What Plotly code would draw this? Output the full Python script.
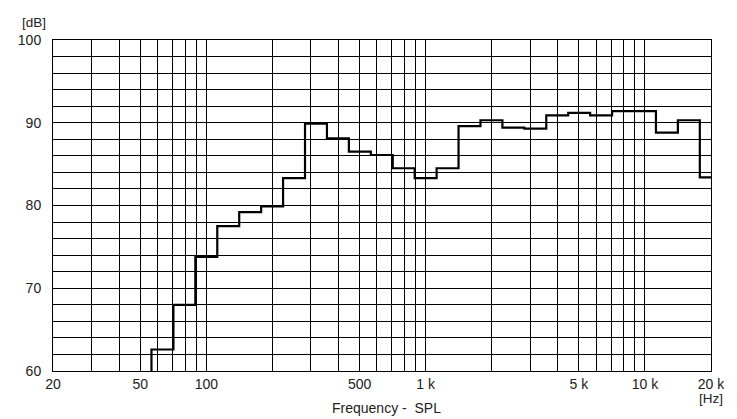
import numpy as np
import plotly.graph_objects as go

# 1/3-octave band index n (center = 1000*10^(n/10)), nominal centers and SPL levels [dB]
band_index = list(range(-13, 14))
band_centers = [50, 63, 80, 100, 125, 160, 200, 250, 315, 400, 500, 630, 800, 1000,
                1250, 1600, 2000, 2500, 3150, 4000, 5000, 6300, 8000, 10000, 12500, 16000, 20000]
spl_db = [55.0, 62.6, 68.0, 73.8, 77.5, 79.2, 79.9, 83.3, 89.9, 88.1, 86.5, 86.1, 84.5, 83.3,
          84.5, 89.6, 90.3, 89.4, 89.3, 90.9, 91.2, 90.9, 91.4, 91.4, 88.8, 90.3, 83.4]

x_grid = [20, 30, 40, 50, 60, 70, 80, 90, 100, 200, 300, 400, 500, 600, 700, 800, 900,
          1000, 2000, 3000, 4000, 5000, 6000, 7000, 8000, 9000, 10000, 20000]
x_labels = {20: "20", 50: "50", 100: "100", 500: "500", 1000: "1 k", 5000: "5 k",
            10000: "10 k", 20000: "20 k"}
y_grid = list(range(60, 101, 2))
y_labels = {60: "60", 70: "70", 80: "80", 90: "90", 100: "100"}

# step outline: lower band edges plus final upper edge
centers_exact = [1000 * 10 ** (n / 10) for n in band_index]
lower_edges = [c * 10 ** (-1 / 20) for c in centers_exact]
upper_last = centers_exact[-1] * 10 ** (1 / 20)
xs = lower_edges + [upper_last]
ys = spl_db + [spl_db[-1]]

W, H = 737, 419
L, T, R, B = 52.7, 40.3, 711.3, 371.0
PW, PH = R - L, B - T


def px(xw):
    return (xw - L) / PW


def py(yw):
    return 1 - (yw - T) / PH


font = "Liberation Sans, Arial, sans-serif"
fig = go.Figure()
fig.add_trace(go.Scatter(x=xs, y=ys, mode="lines", line=dict(color="black", width=2.2, shape="hv"),
                         hoverinfo="skip", showlegend=False))

fig.update_layout(
    width=W, height=H,
    margin=dict(l=L, r=W - R, t=T, b=H - B, pad=0, autoexpand=False),
    paper_bgcolor="white", plot_bgcolor="white",
    font=dict(family=font, size=14, color="#222"),
)
fig.update_xaxes(
    type="log", range=[np.log10(20), np.log10(20000)],
    tickmode="array", tickvals=x_grid, ticktext=[x_labels.get(v, "") for v in x_grid],
    showgrid=True, gridcolor="black", gridwidth=1,
    showline=True, linecolor="black", linewidth=1, mirror=True,
    ticks="", zeroline=False, tickfont=dict(size=14, color="#222"), automargin=False,
)
fig.update_yaxes(
    range=[60, 100],
    tickmode="array", tickvals=y_grid, ticktext=[y_labels.get(v, "") for v in y_grid],
    showgrid=True, gridcolor="black", gridwidth=1,
    showline=True, linecolor="black", linewidth=1, mirror=True,
    ticks="", zeroline=False, tickfont=dict(size=14, color="#222"),
    ticklabelstandoff=8, automargin=False,
)
fig.add_annotation(text="[dB]", xref="paper", yref="paper", x=px(33.7), y=py(23.3),
                   xanchor="center", yanchor="middle", showarrow=False, font=dict(size=13.5, color="#222"))
fig.add_annotation(text="[Hz]", xref="paper", yref="paper", x=px(711.7), y=py(398),
                   xanchor="center", yanchor="middle", showarrow=False, font=dict(size=13.5, color="#222"))
fig.add_annotation(text="Frequency -\u00a0 SPL", xref="paper", yref="paper", x=px(387), y=py(407.5),
                   xanchor="center", yanchor="middle", showarrow=False, font=dict(size=14, color="#222"))

fig.write_html("out.html", config={"displayModeBar": False, "staticPlot": True},
               post_script="document.body.style.margin='0';")
